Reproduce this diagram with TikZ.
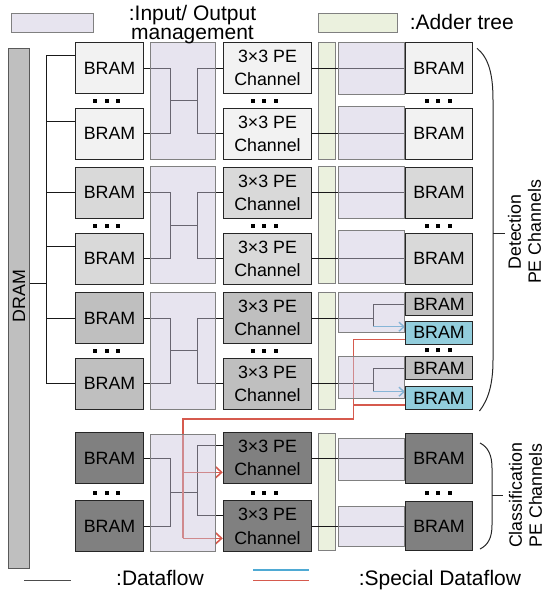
\documentclass[tikz,border=0pt]{standalone}
\usepackage{fontspec}
\setmainfont{Liberation Sans}
\usetikzlibrary{arrows.meta}
\definecolor{gA}{HTML}{F2F2F2}
\definecolor{gB}{HTML}{D9D9D9}
\definecolor{gC}{HTML}{BFBFBF}
\definecolor{gD}{HTML}{808080}
\definecolor{bramblue}{HTML}{92CDDC}
\definecolor{ioc}{HTML}{C9C3DB}
\definecolor{addc}{HTML}{EBF1DE}
\definecolor{spblue}{HTML}{4FAAD4}
\definecolor{spred}{HTML}{D65A4E}
\newcommand{\threedots}{\rule{4pt}{4pt}\hspace{7.5pt}\rule{4pt}{4pt}\hspace{7.5pt}\rule{4pt}{4pt}}
\begin{document}
\begin{tikzpicture}[x=1pt,y=-1pt,
  box/.style={draw=black!85, line width=1pt, inner sep=0pt, align=center, font=\fontsize{17.8}{23.3}\selectfont},
  bramL/.style={box, minimum width=67.6pt, minimum height=51pt},
  bramR/.style={box, minimum width=67pt, minimum height=51pt},
  bramS/.style={box, minimum width=67pt, minimum height=23pt},
  pebox/.style={box, minimum width=88.4pt, minimum height=51pt},
  drambox/.style={draw=black!65, line width=1pt, fill=gC, minimum width=20.7pt, minimum height=519.7pt, inner sep=0pt},
  iobox/.style={draw=black!50, line width=1pt, fill=ioc, fill opacity=0.45},
  addbox/.style={draw=black!50, line width=1pt, fill=addc},
  flow/.style={draw=black!90, line width=1pt},
  sblue/.style={draw=spblue, line width=1.4pt, -{Straight Barb[length=5pt,width=9pt]}},
  sred/.style={draw=spred, line width=1.6pt},
  sredarrow/.style={sred, -{Straight Barb[length=6pt,width=11pt]}},
  dotrow/.style={inner sep=0pt},
  legtext/.style={inner sep=0pt, font=\fontsize{21}{19.3}\selectfont},
  sidetext/.style={inner sep=0pt, align=center, rotate=90, font=\fontsize{17.8}{20}\selectfont},
  bracepath/.style={draw=black!85, line width=1pt}
]
\useasboundingbox (0,0) rectangle (546,595);

% ---------- DRAM ----------
\node[drambox] (dram) at (18.65,308.2) {};
\node[sidetext] (dramlbl) at (19,296) {DRAM};

% ---------- left BRAMs ----------
\node[bramL, fill=gA] (lb1) at (109.5,68) {BRAM};
\node[bramL, fill=gA] (lb2) at (109.5,133.8) {BRAM};
\node[bramL, fill=gB] (lb3) at (109.5,192.8) {BRAM};
\node[bramL, fill=gB] (lb4) at (109.5,258.8) {BRAM};
\node[bramL, fill=gC] (lb5) at (109.5,318) {BRAM};
\node[bramL, fill=gC] (lb6) at (109.5,383.8) {BRAM};
\node[bramL, fill=gD] (lb7) at (109.5,458) {BRAM};
\node[bramL, fill=gD] (lb8) at (109.5,526.3) {BRAM};

% ---------- PE channels ----------
\node[pebox, fill=gA] (pe1) at (267.5,68) {3×3 PE\\Channel};
\node[pebox, fill=gA] (pe2) at (267.5,133.8) {3×3 PE\\Channel};
\node[pebox, fill=gB] (pe3) at (267.5,192.8) {3×3 PE\\Channel};
\node[pebox, fill=gB] (pe4) at (267.5,258.8) {3×3 PE\\Channel};
\node[pebox, fill=gC] (pe5) at (267.5,318) {3×3 PE\\Channel};
\node[pebox, fill=gC] (pe6) at (267.5,383.8) {3×3 PE\\Channel};
\node[pebox, fill=gD] (pe7) at (267.5,458) {3×3 PE\\Channel};
\node[pebox, fill=gD] (pe8) at (267.5,526.3) {3×3 PE\\Channel};

% ---------- right BRAMs ----------
\node[bramR, fill=gA] (rb1) at (439,68) {BRAM};
\node[bramR, fill=gA] (rb2) at (439,133.8) {BRAM};
\node[bramR, fill=gB] (rb3) at (439,192.8) {BRAM};
\node[bramR, fill=gB] (rb4) at (439,258.8) {BRAM};
\node[bramS, fill=gC] (rb5) at (439,304.2) {BRAM};
\node[bramS, fill=bramblue] (rb5b) at (439,332.7) {BRAM};
\node[bramS, fill=gC] (rb6) at (439,368.4) {BRAM};
\node[bramS, fill=bramblue] (rb6b) at (439,398) {BRAM};
\node[bramR, fill=gD, minimum height=50pt] (rb7) at (439,458.3) {BRAM};
\node[bramR, fill=gD, minimum height=48.3pt] (rb8) at (439,525.9) {BRAM};

% ---------- dots ----------
\node[dotrow] (d1) at (106.7,100.8) {\threedots};
\node[dotrow] (d2) at (106.7,225.6) {\threedots};
\node[dotrow] (d3) at (106.7,350.8) {\threedots};
\node[dotrow] (d4) at (106.7,492.5) {\threedots};
\node[dotrow] (d5) at (264.2,100.8) {\threedots};
\node[dotrow] (d6) at (264.2,225.6) {\threedots};
\node[dotrow] (d7) at (264.2,350.8) {\threedots};
\node[dotrow] (d8) at (264.2,492.5) {\threedots};
\node[dotrow] (d9) at (438,100.8) {\threedots};
\node[dotrow] (d10) at (438,225.6) {\threedots};
\node[dotrow] (d11) at (438,350.3) {\threedots};
\node[dotrow] (d12) at (438,492.5) {\threedots};

% ---------- adder trees ----------
\draw[addbox] (318.3,42.7) rectangle (335.7,159);
\draw[addbox] (318.3,166) rectangle (335.7,283.3);
\draw[addbox] (318.3,292.7) rectangle (335.7,409);
\draw[addbox] (318.3,433.3) rectangle (335.7,550);

% ---------- DRAM bus ----------
\coordinate (bustop) at (46.7,55);
\coordinate (busbot) at (46.7,384.3);
\draw[flow] (bustop) -- (busbot);
\draw[flow] (dram.east |- 0,283.3) -- (46.7,283.3);
\draw[flow] ([yshift=13pt]lb1.west) -- ++(-29,0);
\draw[flow] ([yshift=12.8pt]lb2.west) -- ++(-29,0);
\draw[flow] (lb3.west) -- ++(-29,0);
\draw[flow] ([yshift=12.8pt]lb4.west) -- ++(-29,0);
\draw[flow] (lb5.west) -- ++(-29,0);
\draw[flow] (lb6.west) -- ++(-29,0);

% ---------- left distribution ----------
\draw[flow] (lb1.east) -- ++(26.7,0) |- (lb2.east);
\draw[flow] (pe1.west) -- ++(-25.6,0) |- (pe2.west);
\coordinate (j1a) at (170,100.9); \coordinate (j1b) at (197.7,100.9);
\draw[flow] (j1a) -- (j1b);
\draw[flow] (lb3.east) -- ++(26.7,0) |- (lb4.east);
\draw[flow] (pe3.west) -- ++(-25.6,0) |- (pe4.west);
\coordinate (j2a) at (170,225.8); \coordinate (j2b) at (197.7,225.8);
\draw[flow] (j2a) -- (j2b);
\draw[flow] (lb5.east) -- ++(26.7,0) |- (lb6.east);
\draw[flow] (pe5.west) -- ++(-25.6,0) |- (pe6.west);
\coordinate (j3a) at (170,350.9); \coordinate (j3b) at (197.7,350.9);
\draw[flow] (j3a) -- (j3b);
\draw[flow] (lb7.east) -- ++(26.7,0) |- (lb8.east);
\draw[flow] ([yshift=12.3pt]pe7.west) -- ++(-25.6,0) |- ([yshift=10.6pt]pe8.west);
\coordinate (j4a) at (170,492); \coordinate (j4b) at (197.7,492);
\draw[flow] (j4a) -- (j4b);

% ---------- right side ----------
\draw[flow] (pe1.east) -- (pe1.east -| rb1.west);
\draw[flow] (pe2.east) -- (pe2.east -| rb2.west);
\draw[flow] (pe3.east) -- (pe3.east -| rb3.west);
\draw[flow] (pe4.east) -- (pe4.east -| rb4.west);
\draw[flow] (pe7.east) -- (pe7.east -| rb7.west);
\draw[flow] (pe8.east) -- (pe8.east -| rb8.west);
\coordinate (s5) at (373.3,318); \coordinate (s5b) at (373.3,326.7);
\draw[flow] (pe5.east) -- (s5);
\draw[flow] (s5) |- (rb5.west);
\draw[flow] (s5) -- (s5b);
\draw[sblue] (s5b) -- (s5b -| rb5b.west);
\coordinate (s6) at (373.3,383.8); \coordinate (s6b) at (373.3,391.7);
\draw[flow] (pe6.east) -- (s6);
\draw[flow] (s6) |- (rb6.west);
\draw[flow] (s6) -- (s6b);
\draw[sblue] (s6b) -- (s6b -| rb6b.west);

% ---------- special red dataflow ----------
\coordinate (rc0) at (353.3,339.3);
\coordinate (rc1) at (353.3,419);
\coordinate (rc2) at (182.7,419);
\coordinate (rc3) at (182.7,538.3);
\coordinate (rc4) at (182.7,472.3);
\draw[sred] (rc0 -| rb5b.west) -- (rc0) -- (rc1) -- (rc2) -- (rc3);
\draw[sredarrow] (rc3) -- (rc3 -| pe8.west);
\draw[sred] ([yshift=-7pt]rb6b.west) -- ++(-52.2,0);
\draw[sredarrow] (rc4) -- (rc4 -| pe7.west);

% ---------- I/O management boxes ----------
\draw[iobox] (150,42.7) rectangle (215.7,159.3);
\draw[iobox] (150,166) rectangle (215.7,283.3);
\draw[iobox] (150,292.7) rectangle (215.7,409.3);
\draw[iobox] (150,434) rectangle (215.7,551);
\draw[iobox] (338.3,42.7) rectangle (404.3,94.3);
\draw[iobox] (338.3,106.7) rectangle (404.3,159);
\draw[iobox] (338.3,166) rectangle (404.3,218.3);
\draw[iobox] (338.3,230.7) rectangle (404.3,283.3);
\draw[iobox] (338.3,292.7) rectangle (404.3,332.7);
\draw[iobox] (338.3,356.7) rectangle (404.3,398.3);
\draw[iobox] (338.3,438.3) rectangle (404.3,480);
\draw[iobox] (338.3,506.7) rectangle (404.3,546.7);

% ---------- braces ----------
\draw[bracepath] (477,48.3) .. controls (489,58) and (493,75) .. (493,100) -- (493,360) .. controls (493,385) and (488,400) .. (479.5,411);
\coordinate (bt1a) at (493,233.5); \coordinate (bt1b) at (505,233.5);
\draw[bracepath] (bt1a) -- (bt1b);
\node[sidetext] (dettext) at (524.5,232) {Detection\\PE Channels};
\draw[bracepath] (480,443) .. controls (488,447) and (492,455) .. (492,468) -- (492,525) .. controls (492,538) and (488,545) .. (480,549);
\coordinate (bt2a) at (492,495); \coordinate (bt2b) at (503.3,495);
\draw[bracepath] (bt2a) -- (bt2b);
\node[sidetext] (clstext) at (525.5,495.5) {Classification\\PE Channels};

% ---------- legend ----------
\draw[iobox] (11.7,13.3) rectangle (93.3,32.3);
\node[legtext, align=center, anchor=north] (lgio) at (192.5,4.7) {:Input/ Output\\management};
\draw[addbox] (318,13.3) rectangle (397,32.3);
\node[legtext, anchor=base west] (lgadd) at (409.7,29.5) {:Adder tree};
\coordinate (lf1) at (24.3,580.5); \coordinate (lf2) at (70.7,580.5);
\draw[flow, draw=black!70] (lf1) -- (lf2);
\node[legtext, anchor=base west] (lgflow) at (116,585.5) {:Dataflow};
\coordinate (lb1a) at (253,570); \coordinate (lb1b) at (309,570);
\draw[draw=spblue, line width=1.4pt] (lb1a) -- (lb1b);
\coordinate (lr1a) at (253,580.5); \coordinate (lr1b) at (309,580.5);
\draw[sred] (lr1a) -- (lr1b);
\node[legtext, anchor=base west] (lgspec) at (358.6,585.5) {:Special Dataflow};
\end{tikzpicture}
\end{document}
